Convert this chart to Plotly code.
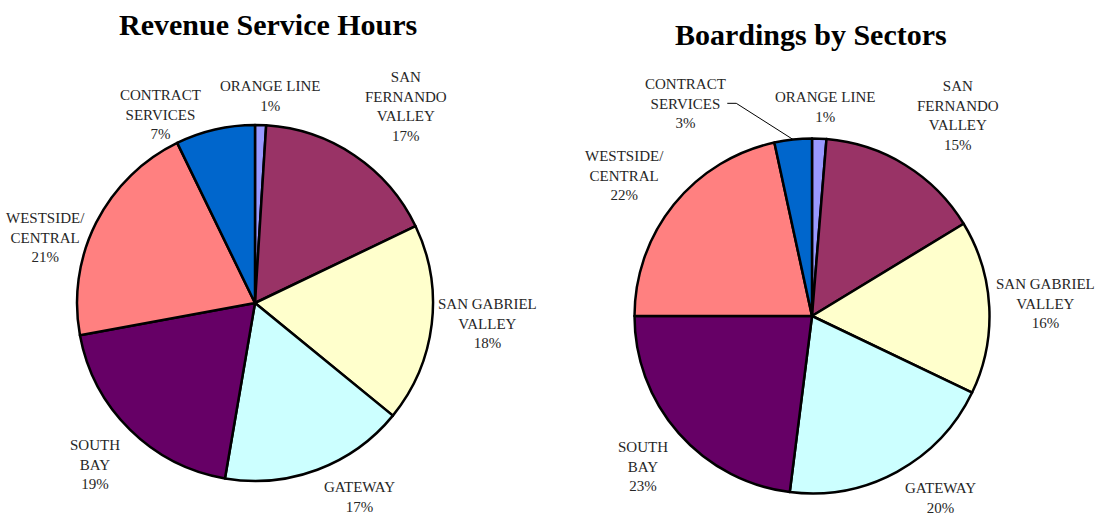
import math
import plotly.graph_objects as go

W, H = 1100, 515

# ---------------- data ----------------
categories = ["ORANGE LINE", "SAN FERNANDO VALLEY", "SAN GABRIEL VALLEY", "GATEWAY",
              "SOUTH BAY", "WESTSIDE/ CENTRAL", "CONTRACT SERVICES"]
label_text = ["ORANGE LINE", "SAN<br>FERNANDO<br>VALLEY", "SAN GABRIEL<br>VALLEY", "GATEWAY",
              "SOUTH<br>BAY", "WESTSIDE/<br>CENTRAL", "CONTRACT<br>SERVICES"]
revenue_hours_pct = [1.0, 16.9, 18.0, 16.8, 19.4, 20.7, 7.2]
boardings_pct = [1.3, 15.0, 15.8, 19.9, 23.0, 21.6, 3.4]
titles = ["Revenue Service Hours", "Boardings by Sectors"]

# ---------------- style ----------------
colors = ["#9999FF", "#993366", "#FFFFCC", "#CCFFFF", "#660066", "#FF8080", "#0066CC"]
FONT = "Liberation Serif"
LBL_SIZE = 15
CHAR_W = 9.1
LINE_H = 19.5
GAP = 10

pies = [
    dict(values=revenue_hours_pct, cx=255, cy=303, r=178, title_xy=(268, 25),
         nudge=[(8, 0), (19, -2), (-4, -8), (31, -2), (-5, 5), (-1, 40), (-46, 24)],
         leader=[]),
    dict(values=boardings_pct, cx=812, cy=316, r=177.5, title_xy=(811, 35),
         nudge=[(5, -2), (23, -2), (-4, -1), (28, -2), (-6, 6), (-5, 6), (-103, 3)],
         leader=[6]),
]


def px_to_paper(x, y):
    return x / W, 1 - y / H


fig = go.Figure()
annotations = []
shapes = []

for p in pies:
    cx, cy, r = p["cx"], p["cy"], p["r"]
    x0, y1 = px_to_paper(cx - r, cy - r)
    x1, y0 = px_to_paper(cx + r, cy + r)
    fig.add_trace(go.Pie(
        labels=categories, values=p["values"], sort=False, direction="clockwise",
        rotation=0, textinfo="none", hoverinfo="label+percent",
        marker=dict(colors=colors, line=dict(color="black", width=2.5)),
        domain=dict(x=[x0, x1], y=[y0, y1]), showlegend=False,
    ))

    total = sum(p["values"])
    cum = 0.0
    for i, v in enumerate(p["values"]):
        mid = (cum + v / 2) / total * 2 * math.pi
        cum += v
        s, c = math.sin(mid), math.cos(mid)
        lines = label_text[i].split("<br>")
        pct = f"{round(v / total * 100)}%"
        hw = max(len(t) for t in lines) * CHAR_W / 2
        hh = (len(lines) + 1) * LINE_H / 2
        t = min(hw / abs(s) if abs(s) > 1e-6 else 1e9, hh / abs(c) if abs(c) > 1e-6 else 1e9)
        d = r + GAP + t
        nx, ny = p["nudge"][i]
        lx = cx + d * s + nx
        ly = cy - d * c + ny
        ax, ay = px_to_paper(lx, ly)
        annotations.append(dict(
            x=ax, y=ay, xref="paper", yref="paper", xanchor="center", yanchor="middle",
            text=label_text[i] + "<br>" + pct, showarrow=False, align="center",
            font=dict(family=FONT, size=LBL_SIZE, color="#262626"),
        ))
        if i in p["leader"]:
            ex, ey = cx + r * s, cy - r * c
            sx = lx + hw + 5
            pts = [(sx, ly), (sx + 9, ly), (ex, ey)]
            pp = [px_to_paper(a, b) for a, b in pts]
            path = "M {},{} L {},{} L {},{}".format(pp[0][0], pp[0][1], pp[1][0], pp[1][1], pp[2][0], pp[2][1])
            shapes.append(dict(type="path", path=path, xref="paper", yref="paper",
                               line=dict(color="black", width=1)))

for p, ttl in zip(pies, titles):
    tx, ty = px_to_paper(*p["title_xy"])
    annotations.append(dict(
        x=tx, y=ty, xref="paper", yref="paper", xanchor="center", yanchor="middle",
        text=f"<b>{ttl}</b>", showarrow=False,
        font=dict(family=FONT, size=30, color="black"),
    ))

fig.update_layout(
    width=W, height=H, margin=dict(l=0, r=0, t=0, b=0),
    paper_bgcolor="white", plot_bgcolor="white",
    annotations=annotations, shapes=shapes, showlegend=False,
)

fig.write_html("out.html", config={"displayModeBar": False},
               post_script="document.body.style.margin='0';document.body.style.overflow='hidden';")
